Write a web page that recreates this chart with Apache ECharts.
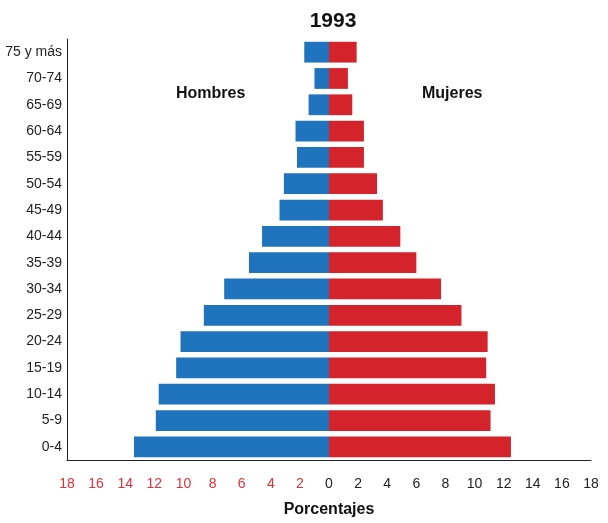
<!DOCTYPE html>
<html>
<head>
<meta charset="utf-8">
<script src="https://cdn.jsdelivr.net/npm/echarts@6/dist/echarts.min.js"></script>
<style>
	html, body { margin: 0; padding: 0; background: #fff; }
	#chart { width: 608px; height: 523px; }
</style>
</head>
<body>
<div id="chart"></div>
<script>
// grupos de edad, de abajo hacia arriba
var grupos = ['0-4', '5-9', '10-14', '15-19', '20-24', '25-29', '30-34', '35-39',
	'40-44', '45-49', '50-54', '55-59', '60-64', '65-69', '70-74', '75 y más'];
// porcentajes
var hombres = [13.4, 11.9, 11.7, 10.5, 10.2, 8.6, 7.2, 5.5, 4.6, 3.4, 3.1, 2.2, 2.3, 1.4, 1.0, 1.7];
var mujeres = [12.5, 11.1, 11.4, 10.8, 10.9, 9.1, 7.7, 6.0, 4.9, 3.7, 3.3, 2.4, 2.4, 1.6, 1.3, 1.9];

var fuente = '"Liberation Sans Narrow", "Liberation Sans", Arial, sans-serif';

var myChart = echarts.init(document.getElementById('chart'));

var option = {
	animation: false,
	title: {
		text: '1993',
		top: 6,
		left: 328,
		textAlign: 'center',
		textStyle: { fontSize: 21, fontWeight: 'bold', color: '#111', fontFamily: '"Liberation Sans", Arial, sans-serif' }
	},
	graphic: [
		{ type: 'text', left: 176, top: 86, style: { text: 'Hombres', fontSize: 16, fontWeight: 'bold', fill: '#111', fontFamily: fuente } },
		{ type: 'text', left: 422, top: 86, style: { text: 'Mujeres', fontSize: 16, fontWeight: 'bold', fill: '#111', fontFamily: fuente } }
	],
	grid: { left: 67, right: 17, top: 39, bottom: 63, containLabel: false, outerBoundsMode: 'none' },
	xAxis: {
		type: 'value',
		min: -18,
		max: 18,
		interval: 2,
		name: 'Porcentajes',
		nameLocation: 'middle',
		nameGap: 42,
		nameTextStyle: { fontSize: 16, fontWeight: 'bold', color: '#111', fontFamily: fuente },
		axisLine: { show: true, onZero: false, lineStyle: { color: '#222', width: 1 } },
		axisTick: { show: false },
		splitLine: { show: false },
		axisLabel: {
			margin: 17,
			fontSize: 14,
			fontFamily: fuente,
			formatter: function(v) { return Math.abs(v); },
			color: function(v) { return v < 0 ? '#e0303a' : '#222'; }
		}
	},
	yAxis: {
		type: 'category',
		data: grupos,
		axisLine: { show: true, onZero: false, lineStyle: { color: '#222', width: 1 } },
		axisTick: { show: false },
		axisLabel: { margin: 5, fontSize: 14, color: '#222', fontFamily: fuente }
	},
	series: [
		{
			name: 'Hombres',
			type: 'bar',
			stack: 'total',
			barCategoryGap: '21%',
			itemStyle: { color: '#1f74bd' },
			data: hombres.map(function(v) { return -v; })
		},
		{
			name: 'Mujeres',
			type: 'bar',
			stack: 'total',
			barCategoryGap: '21%',
			itemStyle: { color: '#d4232b' },
			data: mujeres
		}
	]
};

myChart.setOption(option);
</script>
</body>
</html>
